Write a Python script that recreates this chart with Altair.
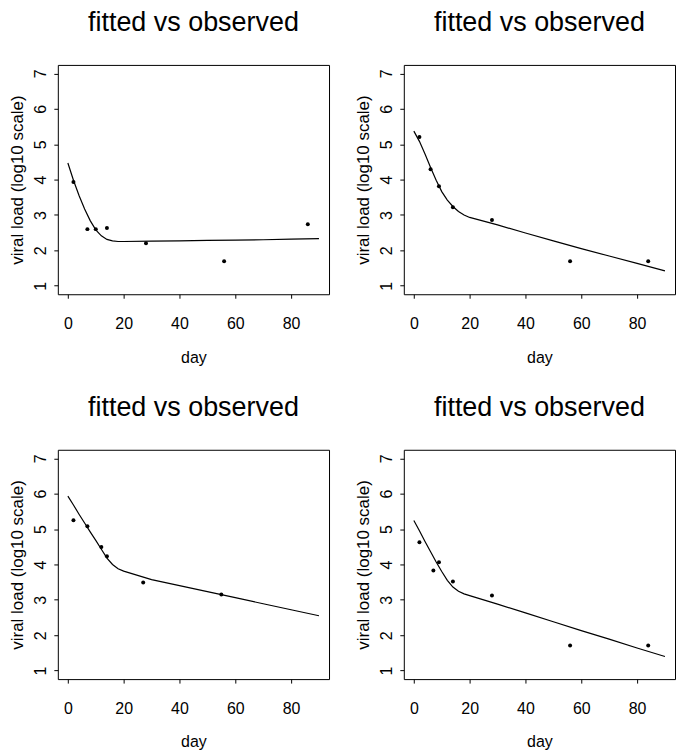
import altair as alt
import pandas as pd

# observed points per panel
obs_day_1 = [2, 7, 10, 14, 28, 56, 86]
obs_vl_1 = [3.93, 2.60, 2.60, 2.63, 2.20, 1.69, 2.74]
obs_day_2 = [2, 6, 9, 14, 28, 56, 84]
obs_vl_2 = [5.20, 4.29, 3.81, 3.22, 2.86, 1.69, 1.69]
obs_day_3 = [2, 7, 12, 14, 27, 55]
obs_vl_3 = [5.25, 5.08, 4.49, 4.23, 3.49, 3.15]
obs_day_4 = [2, 7, 9, 14, 28, 56, 84]
obs_vl_4 = [4.63, 3.83, 4.06, 3.52, 3.12, 1.71, 1.71]

# fitted curves
fit_day = [0, 2, 4, 6, 8, 10, 12, 14, 16, 18, 20, 30, 40, 50, 60, 70, 80, 90]
fit_1 = [4.47, 3.98, 3.55, 3.17, 2.84, 2.58, 2.41, 2.31, 2.27, 2.25, 2.25, 2.26, 2.27, 2.28, 2.29, 2.30, 2.32, 2.33]
fit_2 = [5.37, 5.08, 4.72, 4.34, 3.98, 3.66, 3.42, 3.24, 3.10, 3.00, 2.93, 2.72, 2.49, 2.27, 2.05, 1.84, 1.63, 1.42]
fit_3 = [5.93, 5.68, 5.42, 5.17, 4.92, 4.68, 4.43, 4.18, 4.00, 3.88, 3.81, 3.57, 3.40, 3.23, 3.06, 2.89, 2.72, 2.55]
fit_4 = [5.24, 4.95, 4.65, 4.36, 4.07, 3.80, 3.55, 3.36, 3.24, 3.17, 3.12, 2.88, 2.63, 2.38, 2.13, 1.89, 1.64, 1.40]

x_ticks = [0, 20, 40, 60, 80]
y_ticks = [1, 2, 3, 4, 5, 6, 7]
title_text = "fitted vs observed"
x_title = "day"
y_title = "viral load (log10 scale)"

FONT = "Liberation Sans"
W, H = 272, 230


def panel(days, vls, fvals):
    obs = pd.DataFrame({"day": days, "vl": vls})
    fit = pd.DataFrame({"day": fit_day, "vl": fvals})
    x = alt.X(
        "day:Q",
        scale=alt.Scale(domain=[-3.6, 93.6], nice=False, zero=False),
        axis=alt.Axis(
            values=x_ticks, title=x_title, labelFontSize=16, titleFontSize=16,
            labelBaseline="alphabetic", labelPadding=30, tickSize=4,
            titleBaseline="alphabetic", titleY=68, titleFontWeight="normal",
        ),
    )
    y = alt.Y(
        "vl:Q",
        scale=alt.Scale(domain=[0.76, 7.24], nice=False, zero=False),
        axis=alt.Axis(
            values=y_ticks, title=y_title, labelFontSize=16, titleFontSize=17,
            labelAngle=270, labelAlign="center", labelBaseline="alphabetic",
            labelPadding=8, tickSize=4,
            titleAngle=270, titleAlign="center", titleBaseline="alphabetic",
            titleX=-35, titleY=H / 2, titleFontWeight="normal",
        ),
    )
    line = alt.Chart(fit).mark_line(color="black", strokeWidth=1.2).encode(x=x, y=y)
    pts = alt.Chart(obs).mark_circle(color="black", size=16, opacity=1).encode(x=x, y=y)
    return alt.layer(line, pts).properties(
        width=W, height=H,
        title=alt.TitleParams(
            text=title_text, fontSize=27, fontWeight="normal", font=FONT,
            anchor="middle", frame="group", baseline="alphabetic", offset=7,
            color="black",
        ),
    )


p1 = panel(obs_day_1, obs_vl_1, fit_1)
p2 = panel(obs_day_2, obs_vl_2, fit_2)
p3 = panel(obs_day_3, obs_vl_3, fit_3)
p4 = panel(obs_day_4, obs_vl_4, fit_4)

chart = (
    alt.concat(p1, p2, p3, p4, columns=2, spacing={"row": 156, "column": 75})
    .properties(bounds="flush", padding={"left": 8, "top": 7, "right": 0, "bottom": 0},
                background="white")
    .configure_view(stroke="black", strokeWidth=1)
    .configure_axis(grid=False, domain=False, tickColor="black", labelColor="black",
                    titleColor="black", labelFont=FONT, titleFont=FONT)
)

chart.save("out.html", embed_options={"renderer": "svg", "actions": False})
